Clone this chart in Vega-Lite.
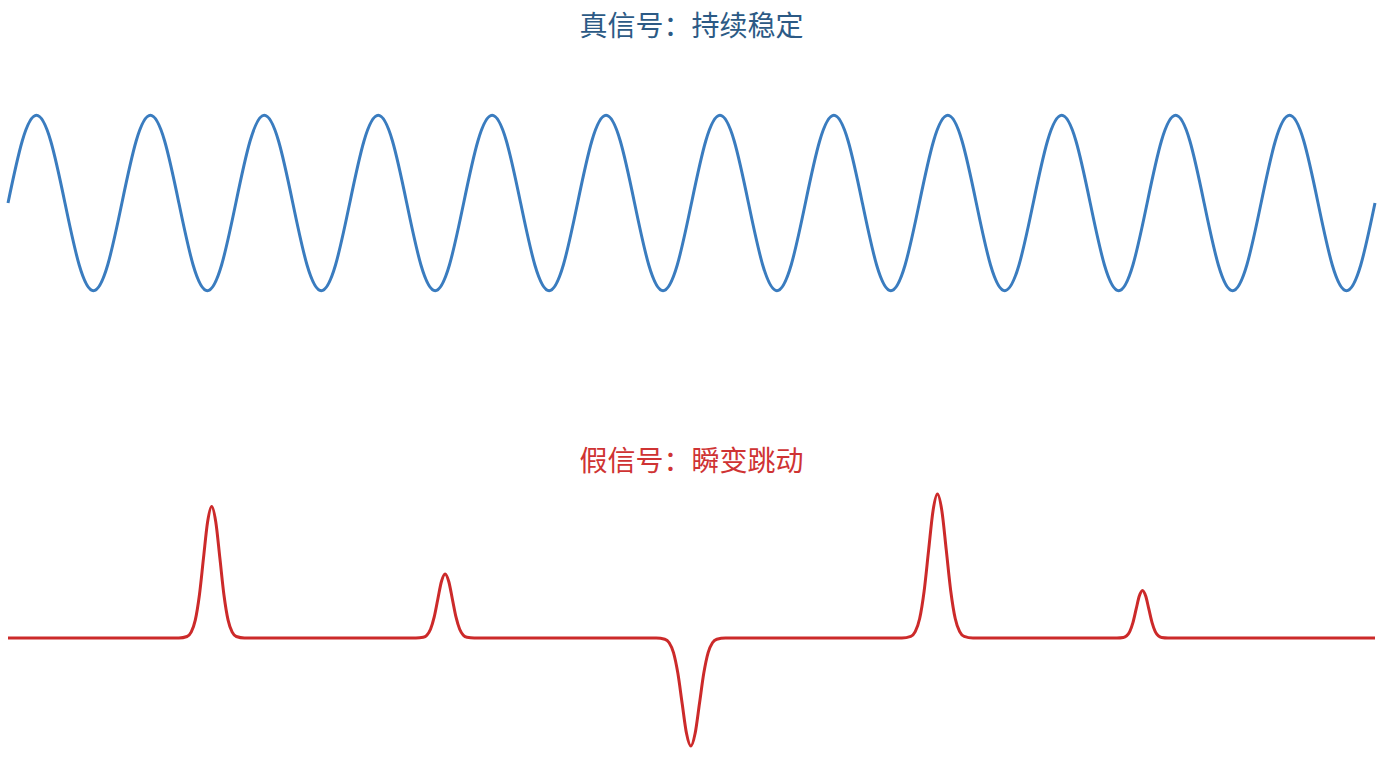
{
  "$schema": "https://vega.github.io/schema/vega-lite/v6.json",
  "padding": {"left": 2, "right": 9, "top": 14, "bottom": 5},
  "spacing": 135,
  "bounds": "flush",
  "config": {
    "view": {"stroke": null},
    "font": "Noto Sans CJK SC",
    "title": {"font": "Noto Sans CJK SC", "fontSize": 28, "fontWeight": "normal", "anchor": "middle"}
  },
  "datasets": {
    "real": [
      {"t": 0, "v": 0}, {"t": 0.125, "v": 0.707}, {"t": 0.25, "v": 1}, {"t": 0.375, "v": 0.707}, {"t": 0.5, "v": 0}, {"t": 0.625, "v": -0.707}, {"t": 0.75, "v": -1}, {"t": 0.875, "v": -0.707},
      {"t": 1, "v": 0}, {"t": 1.125, "v": 0.707}, {"t": 1.25, "v": 1}, {"t": 1.375, "v": 0.707}, {"t": 1.5, "v": 0}, {"t": 1.625, "v": -0.707}, {"t": 1.75, "v": -1}, {"t": 1.875, "v": -0.707},
      {"t": 2, "v": 0}, {"t": 2.125, "v": 0.707}, {"t": 2.25, "v": 1}, {"t": 2.375, "v": 0.707}, {"t": 2.5, "v": 0}, {"t": 2.625, "v": -0.707}, {"t": 2.75, "v": -1}, {"t": 2.875, "v": -0.707},
      {"t": 3, "v": 0}, {"t": 3.125, "v": 0.707}, {"t": 3.25, "v": 1}, {"t": 3.375, "v": 0.707}, {"t": 3.5, "v": 0}, {"t": 3.625, "v": -0.707}, {"t": 3.75, "v": -1}, {"t": 3.875, "v": -0.707},
      {"t": 4, "v": 0}, {"t": 4.125, "v": 0.707}, {"t": 4.25, "v": 1}, {"t": 4.375, "v": 0.707}, {"t": 4.5, "v": 0}, {"t": 4.625, "v": -0.707}, {"t": 4.75, "v": -1}, {"t": 4.875, "v": -0.707},
      {"t": 5, "v": 0}, {"t": 5.125, "v": 0.707}, {"t": 5.25, "v": 1}, {"t": 5.375, "v": 0.707}, {"t": 5.5, "v": 0}, {"t": 5.625, "v": -0.707}, {"t": 5.75, "v": -1}, {"t": 5.875, "v": -0.707},
      {"t": 6, "v": 0}, {"t": 6.125, "v": 0.707}, {"t": 6.25, "v": 1}, {"t": 6.375, "v": 0.707}, {"t": 6.5, "v": 0}, {"t": 6.625, "v": -0.707}, {"t": 6.75, "v": -1}, {"t": 6.875, "v": -0.707},
      {"t": 7, "v": 0}, {"t": 7.125, "v": 0.707}, {"t": 7.25, "v": 1}, {"t": 7.375, "v": 0.707}, {"t": 7.5, "v": 0}, {"t": 7.625, "v": -0.707}, {"t": 7.75, "v": -1}, {"t": 7.875, "v": -0.707},
      {"t": 8, "v": 0}, {"t": 8.125, "v": 0.707}, {"t": 8.25, "v": 1}, {"t": 8.375, "v": 0.707}, {"t": 8.5, "v": 0}, {"t": 8.625, "v": -0.707}, {"t": 8.75, "v": -1}, {"t": 8.875, "v": -0.707},
      {"t": 9, "v": 0}, {"t": 9.125, "v": 0.707}, {"t": 9.25, "v": 1}, {"t": 9.375, "v": 0.707}, {"t": 9.5, "v": 0}, {"t": 9.625, "v": -0.707}, {"t": 9.75, "v": -1}, {"t": 9.875, "v": -0.707},
      {"t": 10, "v": 0}, {"t": 10.125, "v": 0.707}, {"t": 10.25, "v": 1}, {"t": 10.375, "v": 0.707}, {"t": 10.5, "v": 0}, {"t": 10.625, "v": -0.707}, {"t": 10.75, "v": -1}, {"t": 10.875, "v": -0.707},
      {"t": 11, "v": 0}, {"t": 11.125, "v": 0.707}, {"t": 11.25, "v": 1}, {"t": 11.375, "v": 0.707}, {"t": 11.5, "v": 0}, {"t": 11.625, "v": -0.707}, {"t": 11.75, "v": -1}, {"t": 11.875, "v": -0.707},
      {"t": 12, "v": 0}
    ],
    "fake": [
      {"t": 0, "v": 0},
      {"t": 1.500, "v": 0}, {"t": 1.572, "v": 0.015}, {"t": 1.608, "v": 0.058}, {"t": 1.644, "v": 0.178}, {"t": 1.680, "v": 0.427}, {"t": 1.716, "v": 0.798}, {"t": 1.752, "v": 1.160},
      {"t": 1.788, "v": 1.315},
      {"t": 1.824, "v": 1.160}, {"t": 1.860, "v": 0.798}, {"t": 1.896, "v": 0.427}, {"t": 1.932, "v": 0.178}, {"t": 1.968, "v": 0.058}, {"t": 2.004, "v": 0.015}, {"t": 2.076, "v": 0},
      {"t": 3.581, "v": 0}, {"t": 3.645, "v": 0.007}, {"t": 3.677, "v": 0.028}, {"t": 3.709, "v": 0.087}, {"t": 3.741, "v": 0.208}, {"t": 3.773, "v": 0.388}, {"t": 3.805, "v": 0.565},
      {"t": 3.837, "v": 0.64},
      {"t": 3.869, "v": 0.565}, {"t": 3.901, "v": 0.388}, {"t": 3.933, "v": 0.208}, {"t": 3.965, "v": 0.087}, {"t": 3.997, "v": 0.028}, {"t": 4.029, "v": 0.007}, {"t": 4.093, "v": 0},
      {"t": 5.690, "v": 0}, {"t": 5.766, "v": -0.012}, {"t": 5.804, "v": -0.047}, {"t": 5.842, "v": -0.146}, {"t": 5.880, "v": -0.351}, {"t": 5.918, "v": -0.655}, {"t": 5.956, "v": -0.953},
      {"t": 5.994, "v": -1.08},
      {"t": 6.032, "v": -0.953}, {"t": 6.070, "v": -0.655}, {"t": 6.108, "v": -0.351}, {"t": 6.146, "v": -0.146}, {"t": 6.184, "v": -0.047}, {"t": 6.222, "v": -0.012}, {"t": 6.298, "v": 0},
      {"t": 7.847, "v": 0}, {"t": 7.925, "v": 0.016}, {"t": 7.964, "v": 0.063}, {"t": 8.003, "v": 0.195}, {"t": 8.042, "v": 0.468}, {"t": 8.081, "v": 0.873}, {"t": 8.120, "v": 1.271},
      {"t": 8.159, "v": 1.44},
      {"t": 8.198, "v": 1.271}, {"t": 8.237, "v": 0.873}, {"t": 8.276, "v": 0.468}, {"t": 8.315, "v": 0.195}, {"t": 8.354, "v": 0.063}, {"t": 8.393, "v": 0.016}, {"t": 8.471, "v": 0},
      {"t": 9.735, "v": 0}, {"t": 9.791, "v": 0.005}, {"t": 9.819, "v": 0.021}, {"t": 9.847, "v": 0.064}, {"t": 9.875, "v": 0.154}, {"t": 9.903, "v": 0.288}, {"t": 9.931, "v": 0.419},
      {"t": 9.959, "v": 0.475},
      {"t": 9.987, "v": 0.419}, {"t": 10.015, "v": 0.288}, {"t": 10.043, "v": 0.154}, {"t": 10.071, "v": 0.064}, {"t": 10.099, "v": 0.021}, {"t": 10.127, "v": 0.005}, {"t": 10.183, "v": 0},
      {"t": 12, "v": 0}
    ]
  },
  "vconcat": [
    {
      "title": {"text": "真信号：持续稳定", "color": "#2c5a85", "offset": 12},
      "width": 1367,
      "height": 298,
      "data": {"name": "real"},
      "mark": {"type": "line", "interpolate": "natural", "color": "#3a7cbf", "strokeWidth": 3},
      "encoding": {
        "x": {"field": "t", "type": "quantitative", "axis": null, "scale": {"domain": [0, 12], "nice": false, "zero": false}},
        "y": {"field": "v", "type": "quantitative", "axis": null, "scale": {"domain": [-1.7, 1.7], "nice": false, "zero": false}}
      }
    },
    {
      "title": {"text": "假信号：瞬变跳动", "color": "#cf3333", "offset": 10},
      "width": 1367,
      "height": 292,
      "data": {"name": "fake"},
      "mark": {"type": "line", "interpolate": "monotone", "color": "#cc2a2a", "strokeWidth": 3},
      "encoding": {
        "x": {"field": "t", "type": "quantitative", "axis": null, "scale": {"domain": [0, 12], "nice": false, "zero": false}},
        "y": {"field": "v", "type": "quantitative", "axis": null, "scale": {"domain": [-1.41, 1.51], "nice": false, "zero": false}}
      }
    }
  ]
}
